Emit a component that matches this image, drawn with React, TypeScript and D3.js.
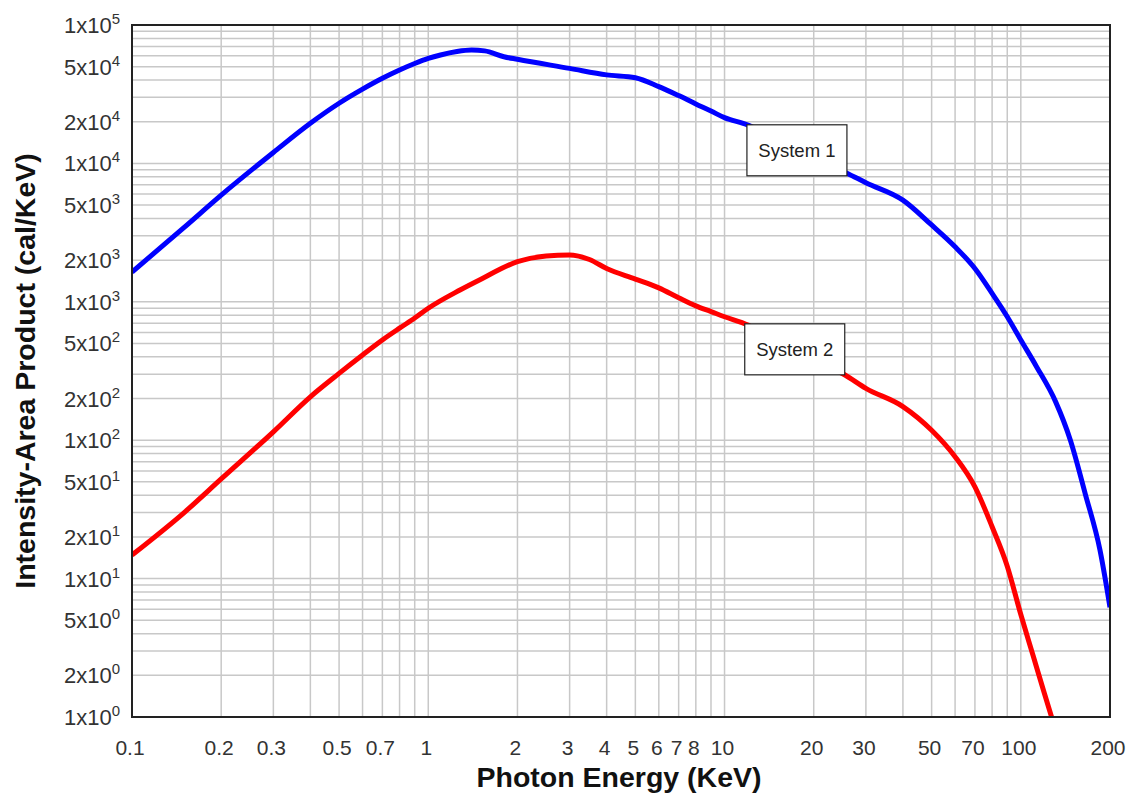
import * as d3 from 'd3'
import { useEffect, useRef } from 'react'

// System 1 (blue)
const sys1Energy = [0.1, 0.15, 0.2, 0.3, 0.4, 0.5, 0.6, 0.7, 0.8, 0.9, 1.0, 1.1, 1.25, 1.4, 1.55, 1.8, 2, 3, 4, 5, 6, 7, 8, 9, 10, 12, 15, 20, 26, 30, 40, 50, 60, 70, 80, 90, 100, 113, 131, 147, 165, 185, 200]
const sys1Value = [1640, 3450, 5900, 12000, 19500, 27200, 34400, 41200, 47300, 52700, 57300, 60700, 64300, 65900, 65000, 59000, 56500, 48600, 43600, 41600, 35900, 30900, 26900, 23900, 21400, 18900, 14500, 10800, 8470, 7250, 5430, 3590, 2500, 1740, 1150, 780, 530, 340, 190, 100, 41, 16.1, 6.2]

// System 2 (red)
const sys2Energy = [0.1, 0.15, 0.2, 0.3, 0.4, 0.5, 0.6, 0.7, 0.8, 0.9, 1.0, 1.28, 1.5, 2, 2.5, 3, 3.5, 4, 5, 6, 7, 8, 9, 10, 12, 15, 20, 25.5, 30, 40, 50, 60, 70, 80, 90, 100, 110, 120, 127]
const sys2Value = [14.8, 30, 52.5, 115, 206, 304, 413, 530, 645, 763, 898, 1217, 1450, 1950, 2140, 2180, 2020, 1740, 1460, 1260, 1070, 935, 850, 780, 680, 520, 380, 296, 237, 175, 118, 76, 46, 23.7, 12.3, 5.5, 2.78, 1.49, 1.0]

const xTickValues = [0.1, 0.2, 0.3, 0.5, 0.7, 1, 2, 3, 4, 5, 6, 7, 8, 10, 20, 30, 50, 70, 100, 200]
const yTickMantissa = [1, 5, 2, 1, 5, 2, 1, 5, 2, 1, 5, 2, 1, 5, 2, 1]
const yTickExponent = [5, 4, 4, 4, 3, 3, 3, 2, 2, 2, 1, 1, 1, 0, 0, 0]

// label boxes, anchored on the curve at this energy
const seriesLabels = ['System 1', 'System 2']
const labelEnergy = [11.9, 11.7]

const Chart = () => {
  const ref = useRef<HTMLDivElement>(null)

  useEffect(() => {
    if (!ref.current) return
    const W = 1131
    const H = 796
    const margin = { top: 25, right: 21, bottom: 79, left: 132 }
    const width = W - margin.left - margin.right
    const height = H - margin.top - margin.bottom

    d3.select(ref.current).select('svg').remove()

    const svg = d3
      .select(ref.current)
      .append('svg')
      .attr('width', W)
      .attr('height', H)
      .style('display', 'block')
      .style('font-family', 'Arial, "Liberation Sans", sans-serif')

    svg.append('rect').attr('width', W).attr('height', H).attr('fill', '#fff')

    const g = svg.append('g').attr('transform', `translate(${margin.left},${margin.top})`)

    const x = d3.scaleLog().domain([0.1, 200]).range([0, width])
    const y = d3.scaleLog().domain([1, 1e5]).range([height, 0])

    // grid
    const xGrid: number[] = []
    ;[0.1, 1, 10].forEach((d) => {
      for (let i = 1; i <= 9; i++) xGrid.push(d * i)
    })
    xGrid.push(100)
    const yGrid: number[] = []
    ;[1, 10, 100, 1000, 10000].forEach((d) => {
      for (let i = 1; i <= 9; i++) yGrid.push(d * i)
    })

    g.append('g')
      .selectAll('line')
      .data(yGrid)
      .join('line')
      .attr('x1', 0)
      .attr('x2', width)
      .attr('y1', (d) => y(d))
      .attr('y2', (d) => y(d))
      .attr('stroke', '#c8c8c8')
      .attr('stroke-width', 1.5)

    g.append('g')
      .selectAll('line')
      .data(xGrid)
      .join('line')
      .attr('y1', 0)
      .attr('y2', height)
      .attr('x1', (d) => x(d))
      .attr('x2', (d) => x(d))
      .attr('stroke', '#c8c8c8')
      .attr('stroke-width', 1.5)

    // curves
    svg
      .append('defs')
      .append('clipPath')
      .attr('id', 'plot-clip')
      .append('rect')
      .attr('width', width)
      .attr('height', height)

    const line = d3
      .line<[number, number]>()
      .x((d) => x(d[0]))
      .y((d) => y(d[1]))
      .curve(d3.curveMonotoneX)

    const series = [
      { e: sys1Energy, v: sys1Value, color: '#0000ff' },
      { e: sys2Energy, v: sys2Value, color: '#ff0000' },
    ]

    series.forEach((s) => {
      g.append('path')
        .datum(s.e.map((e, i) => [e, s.v[i]] as [number, number]))
        .attr('d', line)
        .attr('fill', 'none')
        .attr('stroke', s.color)
        .attr('stroke-width', 5)
        .attr('clip-path', 'url(#plot-clip)')
    })

    // label boxes
    seriesLabels.forEach((label, i) => {
      const s = series[i]
      const e = labelEnergy[i]
      const val = Math.exp(
        d3.scaleLinear().domain(s.e.map(Math.log)).range(s.v.map(Math.log))(Math.log(e))
      )
      const bx = x(e)
      const by = y(val)
      const lb = g.append('g').attr('transform', `translate(${bx},${by})`)
      lb.append('rect')
        .attr('width', 100)
        .attr('height', 51)
        .attr('fill', '#fff')
        .attr('stroke', '#222')
        .attr('stroke-width', 1.2)
      lb.append('text')
        .attr('x', 50)
        .attr('y', 32)
        .attr('text-anchor', 'middle')
        .attr('font-size', 18.5)
        .attr('fill', '#222')
        .text(label)
    })

    // border
    g.append('rect')
      .attr('width', width)
      .attr('height', height)
      .attr('fill', 'none')
      .attr('stroke', '#222')
      .attr('stroke-width', 2)

    // x tick labels
    g.append('g')
      .selectAll('text')
      .data(xTickValues)
      .join('text')
      .attr('x', (d) => x(d) - 2)
      .attr('y', height + 38)
      .attr('text-anchor', 'middle')
      .attr('font-size', 21)
      .attr('fill', '#333')
      .text((d) => `${d}`)

    // y tick labels
    const yl = g
      .append('g')
      .selectAll('text')
      .data(yTickMantissa.map((m, i) => ({ m, p: yTickExponent[i] })))
      .join('text')
      .attr('x', -12)
      .attr('y', (d) => y(d.m * Math.pow(10, d.p)) + 8)
      .attr('text-anchor', 'end')
      .attr('font-size', 22)
      .attr('fill', '#333')
    yl.append('tspan').text((d) => `${d.m}x10`)
    yl.append('tspan').attr('dy', -9).attr('font-size', 15).text((d) => `${d.p}`)

    // axis titles
    svg
      .append('text')
      .attr('x', 619)
      .attr('y', 787)
      .attr('text-anchor', 'middle')
      .attr('font-size', 28.5)
      .attr('font-weight', 'bold')
      .attr('fill', '#111')
      .text('Photon Energy (KeV)')

    svg
      .append('text')
      .attr('transform', 'translate(35,371) rotate(-90)')
      .attr('text-anchor', 'middle')
      .attr('font-size', 28.5)
      .attr('font-weight', 'bold')
      .attr('fill', '#111')
      .text('Intensity-Area Product (cal/KeV)')
  }, [])

  return <div ref={ref} style={{ position: 'absolute', left: 0, top: 0 }} />
}

export default function App() {
  return <Chart />
}
